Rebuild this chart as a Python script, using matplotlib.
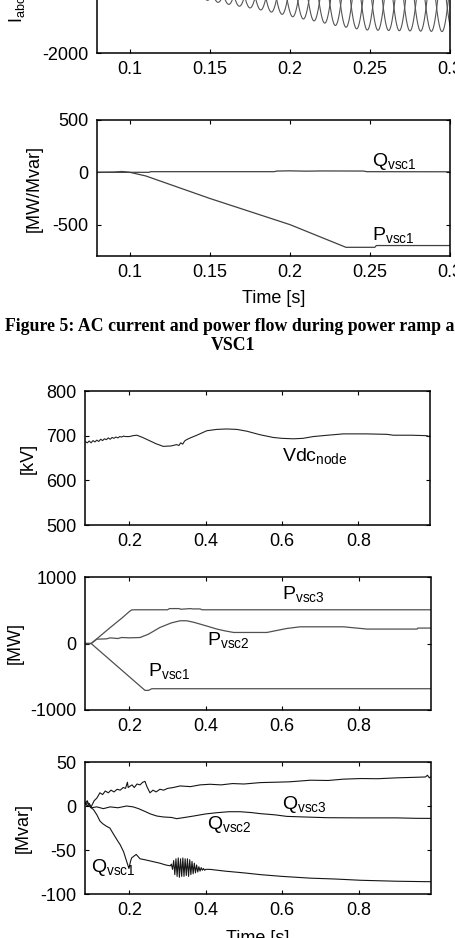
import matplotlib
matplotlib.use("Agg")
import matplotlib.pyplot as plt
import numpy as np

# ---- Figure 5 (tail): AC current of VSC1 ----
T_ENV = [0.08, 0.1, 0.164, 0.177, 0.192, 0.206, 0.218, 0.227, 0.239, 0.248, 0.3]
I_ENV = [15, 15, 590, 690, 830, 980, 1080, 1180, 1275, 1325, 1375]
FREQ_HZ = 50.0

# power flow at VSC1 during the ramp
T_P_VSC1_A = [0.08, 0.09, 0.095, 0.1, 0.11, 0.15, 0.2, 0.235, 0.253, 0.254, 0.3]
P_VSC1_A = [0, 2, 8, 0, -35, -250, -500, -717, -717, -700, -700]
T_Q_VSC1_A = [0.08, 0.1, 0.112, 0.113, 0.19, 0.192, 0.2, 0.21, 0.22, 0.246, 0.248, 0.3]
Q_VSC1_A = [0, 0, 0, 6, 6, 12, 14, 11, 13, 12, 6, 5]

# ---- Figure 6: DC node voltage ----
T_VDC = [0.084, 0.09, 0.095, 0.1, 0.105, 0.11, 0.115, 0.12, 0.125, 0.13,
         0.135, 0.14, 0.145, 0.15, 0.155, 0.16, 0.165, 0.17, 0.175, 0.18,
         0.185, 0.19, 0.2, 0.21, 0.22, 0.235, 0.25, 0.27, 0.289, 0.31,
         0.324, 0.33, 0.335, 0.34, 0.345, 0.35, 0.36, 0.377, 0.39, 0.403,
         0.429, 0.455, 0.482, 0.508, 0.543, 0.577, 0.6, 0.63, 0.655, 0.682,
         0.72, 0.761, 0.82, 0.875, 0.892, 0.94, 0.98, 0.985, 0.988]
VDC_NODE = [687, 684, 688, 684, 689, 686, 690, 687, 692, 689,
            693, 691, 695, 692, 696, 694, 697, 695, 698, 697,
            699, 698, 698, 700, 701, 696, 690, 682, 676, 677,
            680, 678, 684, 681, 688, 691, 695, 701, 706, 711,
            714, 715, 714, 710, 702, 696, 694, 693, 694, 698,
            701, 704, 704, 703, 701, 701, 700, 698, 700]

# ---- Figure 6: active power ----
T_P3 = [0.084, 0.1, 0.12, 0.15, 0.18, 0.2, 0.206, 0.215, 0.3, 0.305,
        0.33, 0.335, 0.36, 0.365, 0.385, 0.39, 0.988]
P_VSC3 = [0, 0, 95, 240, 380, 480, 505, 507, 507, 525,
          525, 515, 525, 520, 520, 507, 507]

T_P2 = [0.084, 0.1, 0.115, 0.14, 0.15, 0.17, 0.18, 0.2, 0.228, 0.25,
        0.28, 0.31, 0.333, 0.35, 0.368, 0.385, 0.41, 0.429, 0.45, 0.473,
        0.52, 0.56, 0.585, 0.612, 0.647, 0.7, 0.761, 0.78, 0.822, 0.9,
        0.953, 0.955, 0.988]
P_VSC2 = [0, 0, 65, 70, 85, 75, 90, 85, 90, 140,
          241, 310, 342, 342, 320, 292, 250, 217, 190, 166,
          166, 166, 195, 226, 251, 251, 251, 240, 217, 217,
          217, 232, 232]

T_P1 = [0.084, 0.1, 0.241, 0.25, 0.259, 0.988]
P_VSC1 = [0, 0, -705, -705, -680, -680]

# ---- Figure 6: reactive power ----
T_Q3 = [0.084, 0.09, 0.095, 0.1, 0.108, 0.115, 0.123, 0.13, 0.137, 0.145,
        0.152, 0.16, 0.168, 0.176, 0.184, 0.19, 0.195, 0.197, 0.2, 0.207,
        0.213, 0.22, 0.228, 0.235, 0.241, 0.246, 0.254, 0.262, 0.27, 0.28,
        0.29, 0.3, 0.315, 0.333, 0.36, 0.385, 0.411, 0.44, 0.47, 0.5,
        0.543, 0.58, 0.62, 0.674, 0.72, 0.76, 0.805, 0.85, 0.9, 0.94,
        0.975, 0.98, 0.985, 0.988]
Q_VSC3 = [4, 0, 3, -1, 6, 9, 15, 13, 17, 15,
          18, 16, 19, 18, 21, 20, 27, 21, 22, 24,
          21, 25, 24, 27, 28, 22, 15, 18, 16, 19,
          18, 20, 21, 22.8, 22, 24, 24.7, 24, 25.5, 25,
          26.6, 27, 27.5, 29.3, 29, 30.5, 31.2, 31, 32, 32.5,
          33, 35, 32, 33]

T_Q2 = [0.084, 0.09, 0.1, 0.115, 0.132, 0.15, 0.17, 0.193, 0.21, 0.224,
        0.24, 0.255, 0.272, 0.29, 0.31, 0.324, 0.345, 0.368, 0.4, 0.429,
        0.46, 0.49, 0.52, 0.543, 0.58, 0.612, 0.66, 0.717, 0.8, 0.9,
        0.95, 0.988]
Q_VSC2 = [2, 4, -2, -1, -3, -1, -2, 0, -1, -3,
          -6, -9, -11.4, -12.5, -13, -14.4, -13, -11.4, -9, -7.6,
          -6.5, -6.5, -7.5, -8.7, -10, -11.8, -12.5, -13.3, -13.5, -13.5,
          -14, -14.1]

T_Q1 = [0.084, 0.09, 0.095, 0.1, 0.106, 0.115, 0.123, 0.13, 0.14, 0.149,
        0.16, 0.17, 0.176, 0.185, 0.193, 0.199, 0.203, 0.206, 0.212, 0.218,
        0.228, 0.24, 0.26, 0.28, 0.295, 0.307,
        0.31, 0.313, 0.316, 0.319, 0.322, 0.325, 0.328, 0.331, 0.334, 0.337,
        0.34, 0.343, 0.346, 0.349, 0.352, 0.355, 0.358, 0.361, 0.364, 0.367,
        0.37, 0.373, 0.376, 0.379, 0.382, 0.385, 0.388, 0.391, 0.394, 0.397,
        0.4, 0.411, 0.45, 0.5, 0.543, 0.6, 0.674, 0.74, 0.805, 0.9,
        0.98, 0.988]
Q_VSC1 = [3, 6, 0, -2, -4, -10, -17, -20, -23, -25,
          -33, -40, -44, -52, -63, -71, -63, -59, -57, -55,
          -60, -61, -63, -65, -67, -68,
          -66, -72, -62, -78, -60, -80, -59, -81, -60, -80,
          -59, -80, -60, -79, -60, -80, -61, -78, -63, -77,
          -65, -76, -67, -75, -69, -74, -70, -73, -71, -73,
          -72, -72, -74, -76, -78, -80, -82, -83, -84.4, -85.5,
          -86, -86]

CAPTION = "Figure 5: AC current and power flow during power ramp at\nVSC1"

W, H = 455, 938


def px_axes(fig, left, top, right, bottom):
    return fig.add_axes([left / W, 1 - bottom / H, (right - left) / W, (bottom - top) / H])


def style(ax):
    ax.tick_params(direction="in", top=True, right=True, length=3, width=0.8,
                   labelsize=13, pad=6)
    for s in ax.spines.values():
        s.set_linewidth(1.1)


def main() -> None:
    plt.rcParams["font.family"] = ["Liberation Sans", "DejaVu Sans"]
    plt.rcParams["mathtext.default"] = "regular"
    plt.rcParams["axes.unicode_minus"] = False

    fig = plt.figure(figsize=(W / 100, H / 100), dpi=100)

    # panel 1: three-phase AC current (only lower part visible)
    ax1 = px_axes(fig, 97, -83, 450, 53)
    t = np.linspace(0.08, 0.3, 6000)
    amp = np.interp(t, T_ENV, I_ENV)
    for k in range(3):
        ax1.plot(t, amp * np.sin(2 * np.pi * FREQ_HZ * t - 2 * np.pi * k / 3),
                 color="#555555", lw=0.8)
    ax1.set_xlim(0.0795, 0.3)
    ax1.set_ylim(-2000, 2000)
    ax1.set_xticks([0.1, 0.15, 0.2, 0.25, 0.3])
    ax1.set_xticklabels(["0.1", "0.15", "0.2", "0.25", "0.3"])
    ax1.set_yticks([-2000, 0, 2000])
    style(ax1)
    fig.text(17 / W, 1 - 23 / H, "I$_{abc}$ [A]", rotation=90, fontsize=13,
             ha="center", va="bottom")

    # panel 2: P/Q of VSC1
    ax2 = px_axes(fig, 97, 120, 450, 256)
    ax2.plot(T_Q_VSC1_A, Q_VSC1_A, color="#404040", lw=0.9)
    ax2.plot(T_P_VSC1_A, P_VSC1_A, color="#404040", lw=0.9)
    ax2.set_xlim(0.0795, 0.3)
    ax2.set_ylim(-800, 500)
    ax2.set_xticks([0.1, 0.15, 0.2, 0.25, 0.3])
    ax2.set_xticklabels(["0.1", "0.15", "0.2", "0.25", "0.3"])
    ax2.set_yticks([-500, 0, 500])
    style(ax2)
    ax2.set_ylabel("[MW/Mvar]", fontsize=13, labelpad=7)
    ax2.set_xlabel("Time [s]", fontsize=13, labelpad=6)
    ax2.text(0.251, 64, "Q$_{vsc1}$", fontsize=14, va="baseline")
    ax2.text(0.251, -650, "P$_{vsc1}$", fontsize=14, va="baseline")

    fig.text(233 / W, 1 - 336 / H, CAPTION, family="Liberation Serif",
             weight="bold", fontsize=12.8, ha="center", va="center",
             multialignment="center", linespacing=1.2)

    xt = [0.2, 0.4, 0.6, 0.8]
    xlim = (0.084, 0.988)

    # panel 3: DC voltage
    ax3 = px_axes(fig, 85, 391, 430, 525)
    ax3.plot(T_VDC, VDC_NODE, color="#222222", lw=0.8)
    ax3.set_xlim(*xlim)
    ax3.set_ylim(500, 800)
    ax3.set_xticks(xt)
    ax3.set_yticks([500, 600, 700, 800])
    style(ax3)
    ax3.set_ylabel("[kV]", fontsize=13, labelpad=7)
    ax3.text(0.6, 644, "Vdc$_{node}$", fontsize=14, va="baseline")

    # panel 4: active power
    ax4 = px_axes(fig, 85, 577, 430.5, 710)
    for tt, vv in [(T_P3, P_VSC3), (T_P2, P_VSC2), (T_P1, P_VSC1)]:
        ax4.plot(tt, vv, color="#505050", lw=0.9)
    ax4.set_xlim(*xlim)
    ax4.set_ylim(-1000, 1000)
    ax4.set_xticks(xt)
    ax4.set_yticks([-1000, 0, 1000])
    style(ax4)
    ax4.set_ylabel("[MW]", fontsize=13, labelpad=5)
    ax4.text(0.6, 666, "P$_{vsc3}$", fontsize=14, va="baseline")
    ax4.text(0.403, -27, "P$_{vsc2}$", fontsize=14, va="baseline")
    ax4.text(0.25, -489, "P$_{vsc1}$", fontsize=14, va="baseline")

    # panel 5: reactive power
    ax5 = px_axes(fig, 85, 762, 430.5, 894)
    for tt, vv in [(T_Q3, Q_VSC3), (T_Q2, Q_VSC2), (T_Q1, Q_VSC1)]:
        ax5.plot(tt, vv, color="#151515", lw=0.8)
    ax5.set_xlim(*xlim)
    ax5.set_ylim(-100, 50)
    ax5.set_xticks(xt)
    ax5.set_yticks([-100, -50, 0, 50])
    style(ax5)
    ax5.set_ylabel("[Mvar]", fontsize=13, labelpad=6)
    ax5.set_xlabel("Time [s]", fontsize=13, labelpad=8)
    ax5.text(0.6, -3.8, "Q$_{vsc3}$", fontsize=14, va="baseline")
    ax5.text(0.403, -26.6, "Q$_{vsc2}$", fontsize=14, va="baseline")
    ax5.text(0.101, -74.9, "Q$_{vsc1}$", fontsize=14, va="baseline")

    fig.savefig("out.png", dpi=100)
    plt.close(fig)


if __name__ == "__main__":
    main()
